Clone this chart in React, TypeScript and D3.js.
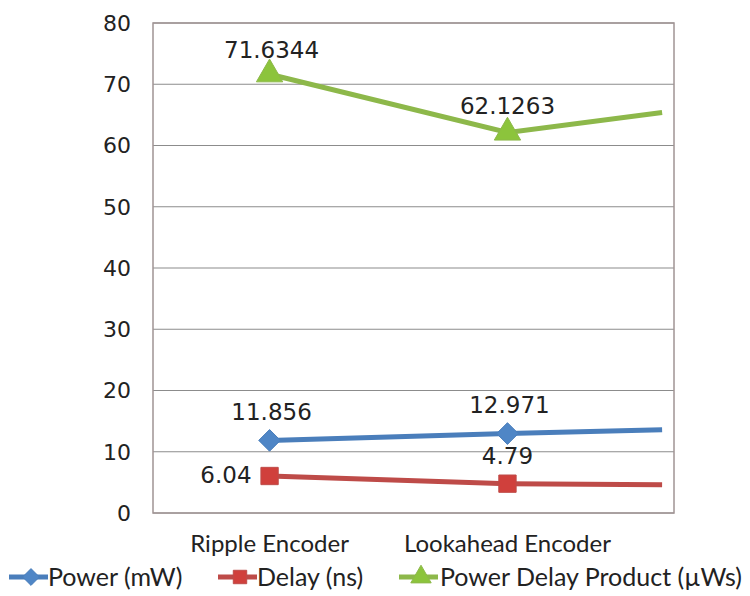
import React from 'react'
import * as d3 from 'd3'

// categories and where each point sits on the category axis (last point has no label/marker)
const categories = ['Ripple Encoder', 'Lookahead Encoder', '']
const catIndex = [0, 1, 1.65]

const powerValues = [11.856, 12.971, 13.6]
const delayValues = [6.04, 4.79, 4.6]
const pdpValues = [71.6344, 62.1263, 65.4]

const yTicks = [0, 10, 20, 30, 40, 50, 60, 70, 80]

const seriesNames = ['Power (mW)', 'Delay (ns)', 'Power Delay Product (\u00b5Ws)']

const W = 750
const H = 596

const App: React.FC = () => {
    const left = 153
    const right = 674
    const top = 23
    const bottom = 513

    const x = d3.scaleLinear().domain([-0.49, 1.7]).range([left, right])
    const y = d3.scaleLinear().domain([0, 80]).range([bottom, top])

    const line = d3
        .line<number>()
        .x((_, i) => x(catIndex[i]))
        .y((d) => y(d))

    const series = [
        { name: seriesNames[0], values: powerValues, color: '#4a7ebb', marker: 'diamond' },
        { name: seriesNames[1], values: delayValues, color: '#be4b48', marker: 'square' },
        { name: seriesNames[2], values: pdpValues, color: '#8db84a', marker: 'triangle' },
    ]

    const markerPath = (type: string, size: number) => {
        const sym =
            type === 'diamond'
                ? d3.symbolDiamond2
                : type === 'square'
                ? d3.symbolSquare
                : d3.symbolTriangle
        return d3.symbol().type(sym).size(size)()
    }

    const markerSize: Record<string, number> = { diamond: 300, square: 300, triangle: 300 }
    const markerFill: Record<string, string> = {
        diamond: '#4f86c6',
        square: '#d0403c',
        triangle: '#8cc43c',
    }

    // data label offsets per series/point
    const labelPos = [
        [
            { dx: 2, dy: -29, anchor: 'middle' },
            { dx: 2, dy: -29, anchor: 'middle' },
        ],
        [
            { dx: -18, dy: -1, anchor: 'end' },
            { dx: 0, dy: -28, anchor: 'middle' },
        ],
        [
            { dx: 2, dy: -25, anchor: 'middle' },
            { dx: 0, dy: -27, anchor: 'middle' },
        ],
    ]
    const labelText = [
        ['11.856', '12.971'],
        ['6.04', '4.79'],
        ['71.6344', '62.1263'],
    ]

    const legendX = [31, 240, 421]
    const legendTextX = [48, 257, 440]

    return (
        <svg width={W} height={H} style={{ position: 'absolute', left: 0, top: 0 }}>
            <rect width={W} height={H} fill="#ffffff" />

            {/* gridlines */}
            {yTicks.map((t) => (
                <line
                    key={t}
                    x1={left}
                    x2={right}
                    y1={y(t)}
                    y2={y(t)}
                    stroke="#8c8c8c"
                    strokeWidth={1.2}
                />
            ))}
            <rect
                x={left}
                y={top}
                width={right - left}
                height={bottom - top}
                fill="none"
                stroke="#a09494"
                strokeWidth={1.5}
            />

            {/* y tick labels */}
            {yTicks.map((t) => (
                <text
                    key={t}
                    x={131}
                    y={y(t)}
                    dy="0.36em"
                    textAnchor="end"
                    fontFamily="DejaVu Sans"
                    fontSize={22}
                    fill="#222"
                >
                    {t}
                </text>
            ))}

            {/* category labels */}
            {categories.map((c, i) =>
                c ? (
                    <text
                        key={c}
                        x={x(catIndex[i])}
                        y={552}
                        textAnchor="middle"
                        fontFamily="Lato"
                        fontSize={24}
                        fill="#222"
                    >
                        {c}
                    </text>
                ) : null
            )}

            {/* lines */}
            {series.map((s) => (
                <path
                    key={s.name}
                    d={line(s.values) || ''}
                    fill="none"
                    stroke={s.color}
                    strokeWidth={5}
                />
            ))}

            {/* markers (only on labelled categories) */}
            {series.map((s) =>
                s.values.map((v, i) =>
                    categories[i] ? (
                        <path
                            key={s.name + i}
                            d={markerPath(s.marker, markerSize[s.marker])}
                            transform={`translate(${x(catIndex[i])},${y(v)})`}
                            fill={markerFill[s.marker]}
                            stroke={s.color}
                            strokeWidth={1}
                        />
                    ) : null
                )
            )}

            {/* data labels */}
            {series.map((s, si) =>
                labelText[si].map((lt, i) => (
                    <text
                        key={s.name + 'l' + i}
                        x={x(catIndex[i]) + labelPos[si][i].dx}
                        y={y(s.values[i]) + labelPos[si][i].dy}
                        dy="0.36em"
                        textAnchor={labelPos[si][i].anchor}
                        fontFamily="DejaVu Sans"
                        fontSize={23}
                        fill="#222"
                    >
                        {lt}
                    </text>
                ))
            )}

            {/* legend */}
            {series.map((s, i) => (
                <g key={s.name + 'leg'}>
                    <line
                        x1={legendX[i] - 22}
                        x2={legendX[i] + 17}
                        y1={577}
                        y2={577}
                        stroke={s.color}
                        strokeWidth={5}
                    />
                    <path
                        d={markerPath(s.marker, markerSize[s.marker] * 0.6)}
                        transform={`translate(${legendX[i]},577)`}
                        fill={markerFill[s.marker]}
                        stroke={s.color}
                    />
                    <text
                        x={legendTextX[i]}
                        y={577}
                        dy="0.35em"
                        fontFamily="Lato"
                        fontSize={25}
                        fill="#222"
                    >
                        {s.name}
                    </text>
                </g>
            ))}
        </svg>
    )
}

export default App
